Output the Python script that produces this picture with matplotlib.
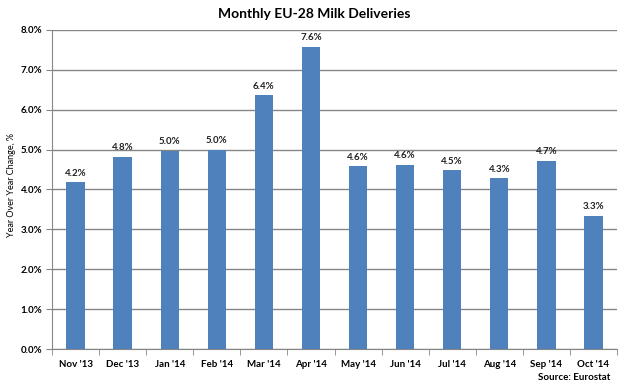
import matplotlib
matplotlib.use("Agg")
import matplotlib.pyplot as plt
import numpy as np

months = ["Nov '13", "Dec '13", "Jan '14", "Feb '14", "Mar '14", "Apr '14",
          "May '14", "Jun '14", "Jul '14", "Aug '14", "Sep '14", "Oct '14"]
values = [4.18, 4.82, 4.97, 5.00, 6.36, 7.58, 4.58, 4.62, 4.48, 4.28, 4.72, 3.33]
yticks = [0, 1, 2, 3, 4, 5, 6, 7, 8]

plt.rcParams['font.family'] = ['Lato', 'DejaVu Sans']

fig = plt.figure(figsize=(6.28, 3.88), dpi=100)
ax = fig.add_axes([0.0828, 0.1005, 0.8997, 0.8222])

x = np.arange(len(months))
color = '#4F81BD'
ax.bar(x, values, width=0.39, color=color, zorder=3)
for xi, v in zip(x, values):
    ax.text(xi, v + 0.12, f"{v:.1f}%", ha='center', va='bottom', fontsize=7, fontweight='bold', color='#222222')

ax.set_xlim(-0.5, len(months) - 0.5)
ax.set_ylim(0, 8)
ax.set_yticks(yticks)
ax.set_yticklabels([f"{t:.1f}%" for t in yticks], fontsize=7, fontweight='bold')
ax.yaxis.grid(True, color='#868686', linewidth=1, zorder=0)
ax.set_xticks(x)
ax.set_xticklabels(months, fontsize=7, fontweight='bold')
ax.set_xticks(np.arange(-0.5, len(months)), minor=True)
ax.tick_params(axis='x', which='major', length=0, pad=8)
ax.tick_params(axis='x', which='minor', length=4, color='#868686', direction='out')
ax.tick_params(axis='y', length=4, color='#868686', direction='out', pad=3)
for s in ['top', 'right']:
    ax.spines[s].set_visible(False)
for s in ['left', 'bottom']:
    ax.spines[s].set_color('#868686')

fig.text(12 / 628, 1 - 185 / 388, "Year Over Year Change, %", rotation=90,
         ha='center', va='center', fontsize=6.5)
fig.text(0.5, 0.965, "Monthly EU-28 Milk Deliveries", ha='center', va='center', fontsize=10, fontweight='bold')
fig.text(610 / 628, 1 - 378 / 388, "Source: Eurostat", ha='right', va='center', fontsize=7, fontweight='bold')

fig.savefig("out.png", dpi=100)
